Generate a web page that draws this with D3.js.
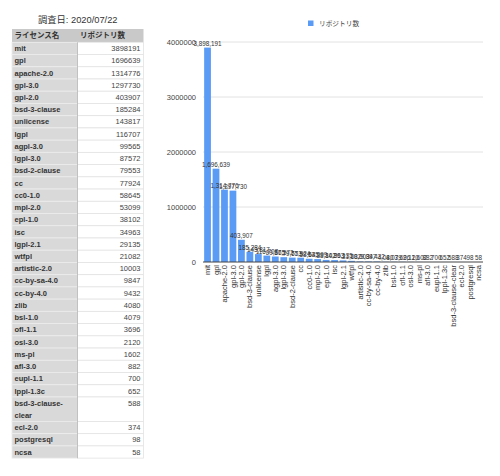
<!DOCTYPE html>
<html><head><meta charset="utf-8">
<script src="https://cdn.jsdelivr.net/npm/d3@7"></script>
<style>
html,body{margin:0;padding:0;background:#fff;}
svg{display:block;font-family:"Liberation Sans",Arial,"Noto Sans CJK JP",sans-serif;}
</style></head>
<body>
<svg id="c" width="500" height="476"></svg>
<script>
const titleText = "調査日: 2020/07/22";
const headers = ["ライセンス名", "リポジトリ数"];
const seriesName = "リポジトリ数";
const licenses = ["mit","gpl","apache-2.0","gpl-3.0","gpl-2.0","bsd-3-clause","unlicense","lgpl","agpl-3.0","lgpl-3.0","bsd-2-clause","cc","cc0-1.0","mpl-2.0","epl-1.0","isc","lgpl-2.1","wtfpl","artistic-2.0","cc-by-sa-4.0","cc-by-4.0","zlib","bsl-1.0","ofl-1.1","osl-3.0","ms-pl","afl-3.0","eupl-1.1","lppl-1.3c","bsd-3-clause-clear","ecl-2.0","postgresql","ncsa"];
const counts = [3898191,1696639,1314776,1297730,403907,185284,143817,116707,99565,87572,79553,77924,58645,53099,38102,34963,29135,21082,10003,9847,9432,4080,4079,3696,2120,1602,882,700,652,588,374,98,58];
const yTicks = [0,1000000,2000000,3000000,4000000];

const svg = d3.select("#c");
const font = '"Liberation Sans",Arial,"Noto Sans CJK JP",sans-serif';

// ---------- Table ----------
const tX0 = 12, tX1 = 77.5, tX2 = 143.5;
const headTop = 29, headH = 13.3, rowH = 12.23;
const nameFS = 7.5;

svg.append("text").attr("x", (tX0 + tX2) / 2).attr("y", 22.5)
  .attr("text-anchor", "middle").attr("font-size", 9.3).attr("fill", "#333")
  .text(titleText);

const tg = svg.append("g");
// measure names and wrap
const meas = svg.append("text").attr("font-size", nameFS).attr("font-weight", "bold").attr("visibility","hidden");
function wrapName(s) {
  const avail = tX1 - tX0 - 6;
  meas.text(s);
  if (meas.node().getComputedTextLength() <= avail) return [s];
  let idx = -1;
  for (let i = 0; i < s.length; i++) {
    if (s[i] === "-") {
      meas.text(s.slice(0, i + 1));
      if (meas.node().getComputedTextLength() <= avail) idx = i;
    }
  }
  if (idx < 0) return [s];
  return [s.slice(0, idx + 1), s.slice(idx + 1)];
}
const rows = licenses.map((l, i) => ({ name: l, value: counts[i], lines: wrapName(l) }));
meas.remove();
let yy = headTop + headH;
rows.forEach(r => { r.y = yy; r.h = rowH * r.lines.length; yy += r.h; });

// header
tg.append("rect").attr("x", tX0).attr("y", headTop).attr("width", tX2 - tX0).attr("height", headH)
  .attr("fill", "#c9c9c9");
tg.append("text").attr("x", tX0 + 2.5).attr("y", headTop + headH / 2 + 2.7)
  .attr("font-size", nameFS).attr("font-weight", "bold").attr("fill", "#333").text(headers[0]);
tg.append("text").attr("x", tX1 + 2.5).attr("y", headTop + headH / 2 + 2.7)
  .attr("font-size", nameFS).attr("font-weight", "bold").attr("fill", "#333").text(headers[1]);

const rg = tg.selectAll("g.row").data(rows).join("g").attr("class", "row");
rg.append("rect").attr("x", tX0).attr("y", d => d.y).attr("width", tX1 - tX0).attr("height", d => d.h)
  .attr("fill", "#d9d9d9").attr("stroke", "#ececec").attr("stroke-width", 0.8);
rg.append("rect").attr("x", tX1).attr("y", d => d.y).attr("width", tX2 - tX1).attr("height", d => d.h)
  .attr("fill", "#ffffff").attr("stroke", "#e3e3e3").attr("stroke-width", 0.8);
rg.each(function(d) {
  const g = d3.select(this);
  d.lines.forEach((ln, k) => {
    g.append("text").attr("x", tX0 + 2.5).attr("y", d.y + rowH * k + rowH / 2 + 2.7)
      .attr("font-size", nameFS).attr("font-weight", "bold").attr("fill", "#333").text(ln);
  });
  g.append("text").attr("x", tX2 - 3).attr("y", d.y + rowH / 2 + 2.7)
    .attr("text-anchor", "end").attr("font-size", nameFS).attr("fill", "#444").text(d.value);
});
tg.append("line").attr("x1", tX1).attr("x2", tX1).attr("y1", headTop + headH).attr("y2", yy)
  .attr("stroke", "#b8b8b8").attr("stroke-width", 0.8);

// ---------- Chart ----------
const x = d3.scaleBand().domain(licenses).range([203.3, 482.8]).paddingInner(0.2).paddingOuter(0.1);
const y = d3.scaleLinear().domain([0, 4000000]).range([262, 42]);
const cg = svg.append("g");

// gridlines
cg.selectAll("line.grid").data(yTicks.filter(t => t > 0)).join("line")
  .attr("x1", 203).attr("x2", 483).attr("y1", d => y(d)).attr("y2", d => y(d))
  .attr("stroke", "#e2e2e2").attr("stroke-width", 1);

// y axis labels via axis
const yAxis = d3.axisLeft(y).tickValues(yTicks).tickFormat(d3.format("d")).tickSize(0).tickPadding(0);
const ya = cg.append("g").attr("transform", "translate(196,0)").call(yAxis);
ya.select(".domain").remove();
ya.selectAll("text").attr("font-size", 7.5).attr("font-family", font).attr("fill", "#444").attr("dy", "0.35em");

// bars
cg.selectAll("rect.bar").data(rows).join("rect").attr("class", "bar")
  .attr("x", d => x(d.name)).attr("width", x.bandwidth())
  .attr("y", d => y(d.value)).attr("height", d => y(0) - y(d.value))
  .attr("fill", "#5a9bf6");

// baseline
cg.append("line").attr("x1", 203).attr("x2", 483).attr("y1", y(0)).attr("y2", y(0))
  .attr("stroke", "#444").attr("stroke-width", 1);

// value labels
cg.selectAll("text.val").data(rows).join("text").attr("class", "val")
  .attr("x", d => x(d.name) + x.bandwidth() / 2).attr("y", d => y(d.value) - 2)
  .attr("text-anchor", "middle").attr("font-size", 6.3).attr("fill", "#333")
  .text(d => d3.format(",")(d.value));

// x axis labels
const xAxis = d3.axisBottom(x).tickSize(0).tickPadding(0);
const xa = cg.append("g").attr("transform", `translate(0,${y(0)})`).call(xAxis);
xa.select(".domain").remove();
xa.selectAll("text").attr("font-size", 7.5).attr("font-family", font).attr("fill", "#333")
  .attr("text-anchor", "end").attr("dy", null).attr("y", 0)
  .attr("transform", "translate(2.6,3) rotate(-90)");

// legend
const lg = svg.append("g").attr("transform", "translate(308,20.5)");
lg.append("rect").attr("width", 5.5).attr("height", 5.5).attr("fill", "#5a9bf6");
lg.append("text").attr("x", 11).attr("y", 5.2).attr("font-size", 6.7).attr("fill", "#444").text(seriesName);
</script>
</body></html>
